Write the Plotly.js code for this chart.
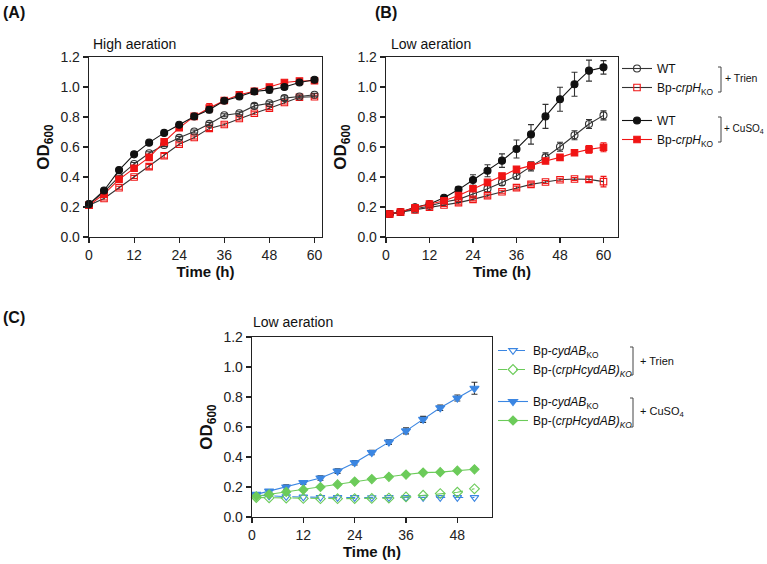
<!DOCTYPE html>
<html>
<head>
<meta charset="utf-8">
<script src="https://cdn.plot.ly/plotly-3.0.1.min.js"></script>
<style>html,body{margin:0;padding:0;background:#fff;}#chart{width:767px;height:564px;}</style>
</head>
<body>
<div id="chart"></div>
<script>
// ---------- data ----------
const hoursA = [0, 4, 8, 12, 16, 20, 24, 28, 32, 36, 40, 44, 48, 52, 56, 60];
const hoursB = [1, 4, 8, 12, 16, 20, 24, 28, 32, 36, 40, 44, 48, 52, 56, 60];
const hoursC = [1, 4, 8, 12, 16, 20, 24, 28, 32, 36, 40, 44, 48, 52];

// Panel A - High aeration
const A_WT_Trien = [0.219, 0.300, 0.402, 0.487, 0.558, 0.614, 0.661, 0.703, 0.754, 0.812, 0.825, 0.874, 0.892, 0.926, 0.937, 0.948];
const A_KO_Trien = [0.212, 0.257, 0.328, 0.400, 0.469, 0.542, 0.618, 0.663, 0.724, 0.750, 0.790, 0.825, 0.859, 0.897, 0.932, 0.935];
const A_WT_Cu    = [0.219, 0.310, 0.446, 0.551, 0.629, 0.694, 0.748, 0.804, 0.848, 0.908, 0.937, 0.970, 0.981, 1.000, 1.030, 1.048];
const A_KO_Cu    = [0.212, 0.286, 0.384, 0.458, 0.531, 0.634, 0.728, 0.804, 0.860, 0.910, 0.948, 0.972, 1.000, 1.030, 1.040, 1.042];
const A_err_WT_Trien = [0.01, 0.01, 0.01, 0.01, 0.01, 0.01, 0.01, 0.01, 0.01, 0.01, 0.01, 0.015, 0.01, 0.015, 0.01, 0.01];
const A_err_KO_Trien = [0.01, 0.01, 0.01, 0.01, 0.015, 0.015, 0.01, 0.01, 0.015, 0.01, 0.01, 0.01, 0.01, 0.01, 0.01, 0.01];
const A_err_WT_Cu    = [0.01, 0.01, 0.01, 0.01, 0.01, 0.01, 0.01, 0.01, 0.02, 0.01, 0.015, 0.02, 0.02, 0.015, 0.01, 0.015];
const A_err_KO_Cu    = [0.01, 0.01, 0.01, 0.01, 0.01, 0.01, 0.01, 0.01, 0.03, 0.01, 0.01, 0.01, 0.01, 0.01, 0.01, 0.01];

// Panel B - Low aeration
const B_WT_Trien = [0.153, 0.167, 0.184, 0.207, 0.233, 0.251, 0.287, 0.322, 0.364, 0.407, 0.471, 0.531, 0.602, 0.678, 0.753, 0.811];
const B_KO_Trien = [0.153, 0.165, 0.180, 0.198, 0.213, 0.229, 0.251, 0.276, 0.302, 0.329, 0.351, 0.367, 0.382, 0.387, 0.384, 0.369];
const B_WT_Cu    = [0.153, 0.167, 0.198, 0.220, 0.262, 0.316, 0.380, 0.442, 0.509, 0.587, 0.684, 0.804, 0.918, 1.018, 1.109, 1.131];
const B_KO_Cu    = [0.153, 0.167, 0.195, 0.220, 0.242, 0.276, 0.322, 0.364, 0.407, 0.451, 0.476, 0.507, 0.531, 0.562, 0.584, 0.598];
const B_err_WT_Trien = [0.01, 0.01, 0.01, 0.01, 0.01, 0.015, 0.02, 0.02, 0.02, 0.02, 0.03, 0.03, 0.03, 0.03, 0.03, 0.03];
const B_err_KO_Trien = [0.01, 0.01, 0.01, 0.01, 0.01, 0.01, 0.01, 0.01, 0.01, 0.01, 0.01, 0.01, 0.01, 0.01, 0.015, 0.035];
const B_err_WT_Cu    = [0.01, 0.01, 0.01, 0.01, 0.015, 0.02, 0.035, 0.04, 0.045, 0.06, 0.065, 0.08, 0.08, 0.08, 0.07, 0.045];
const B_err_KO_Cu    = [0.01, 0.01, 0.01, 0.01, 0.01, 0.01, 0.01, 0.01, 0.01, 0.01, 0.01, 0.01, 0.015, 0.015, 0.025, 0.03];

// Panel C - Low aeration
const C_cyd_Trien      = [0.145, 0.140, 0.136, 0.133, 0.131, 0.130, 0.130, 0.129, 0.130, 0.130, 0.130, 0.130, 0.130, 0.130];
const C_crpHcyd_Trien  = [0.130, 0.128, 0.126, 0.124, 0.122, 0.122, 0.123, 0.124, 0.126, 0.134, 0.145, 0.156, 0.165, 0.188];
const C_cyd_Cu         = [0.151, 0.173, 0.200, 0.229, 0.260, 0.306, 0.362, 0.430, 0.499, 0.574, 0.651, 0.728, 0.793, 0.858];
const C_crpHcyd_Cu     = [0.138, 0.151, 0.167, 0.182, 0.200, 0.217, 0.236, 0.253, 0.268, 0.283, 0.296, 0.299, 0.309, 0.318];
const C_err_cyd_Cu     = [0.01, 0.01, 0.015, 0.012, 0.015, 0.015, 0.015, 0.015, 0.015, 0.02, 0.02, 0.018, 0.02, 0.04];

const labelsAB = ['WT', 'Bp-<i>crpH</i><sub>KO</sub>'];
const labelsC  = ['Bp-<i>cydAB</i><sub>KO</sub>', 'Bp-(<i>crpHcydAB)<sub>KO</sub></i>'];
const treatLabels = ['+ Trien', '+ CuSO<sub>4</sub>'];

// ---------- style ----------
const F = 'Arial, "Liberation Sans", Helvetica, sans-serif';
const BLACK = '#111111', RED = '#f01414', BLUE = '#3b86e2', GREEN = '#6ccb5a';
const W = 767, H = 564;
const px = x => x / W;
const py = y => 1 - y / H;

function tr(x, y, err, opts) {
  const t = {
    x: x, y: y, type: 'scatter', mode: 'lines+markers', cliponaxis: false,
    line: {color: opts.lineColor, width: 1.1, dash: opts.dash || 'solid'},
    marker: {symbol: opts.symbol, color: opts.markerColor, size: opts.size || 7, line: {width: 1.1, color: opts.markerColor}},
    name: opts.name, legendgroup: opts.group, showlegend: !!opts.legend,
    xaxis: opts.xa, yaxis: opts.ya
  };
  if (opts.legend) t.legend = opts.legend;
  if (err) t.error_y = {type: 'data', array: err, visible: true, color: opts.errColor || opts.lineColor, thickness: 1.1, width: 3};
  return t;
}

const data = [
  // A
  tr(hoursA, A_KO_Trien, A_err_KO_Trien, {xa:'x', ya:'y', lineColor:'#333', markerColor:RED, errColor:RED, symbol:'square-open', size:6.5, name:labelsAB[1]}),
  tr(hoursA, A_WT_Trien, A_err_WT_Trien, {xa:'x', ya:'y', lineColor:'#333', markerColor:'#333', errColor:'#333', symbol:'circle-open', name:labelsAB[0]}),
  tr(hoursA, A_KO_Cu, A_err_KO_Cu, {xa:'x', ya:'y', lineColor:RED, markerColor:RED, errColor:RED, symbol:'square', size:6.5, name:labelsAB[1]}),
  tr(hoursA, A_WT_Cu, A_err_WT_Cu, {xa:'x', ya:'y', lineColor:BLACK, markerColor:BLACK, symbol:'circle', name:labelsAB[0]}),
  // B (with legend)
  tr(hoursB, B_WT_Trien, B_err_WT_Trien, {xa:'x2', ya:'y2', lineColor:'#333', markerColor:'#333', errColor:'#333', symbol:'circle-open', name:labelsAB[0], group:'trien', legend:'legend'}),
  tr(hoursB, B_KO_Trien, B_err_KO_Trien, {xa:'x2', ya:'y2', lineColor:'#333', markerColor:RED, errColor:RED, symbol:'square-open', size:6.5, name:labelsAB[1], group:'trien', legend:'legend'}),
  tr(hoursB, B_WT_Cu, B_err_WT_Cu, {xa:'x2', ya:'y2', lineColor:BLACK, markerColor:BLACK, errColor:'#333', symbol:'circle', name:labelsAB[0], group:'cu', legend:'legend'}),
  tr(hoursB, B_KO_Cu, B_err_KO_Cu, {xa:'x2', ya:'y2', lineColor:RED, markerColor:RED, errColor:RED, symbol:'square', size:6.5, name:labelsAB[1], group:'cu', legend:'legend'}),
  // C (with legend2)
  tr(hoursC, C_cyd_Trien, null, {xa:'x3', ya:'y3', lineColor:BLUE, markerColor:BLUE, symbol:'triangle-down-open', size:7.5, dash:'dash', name:labelsC[0], group:'ctrien', legend:'legend2'}),
  tr(hoursC, C_crpHcyd_Trien, null, {xa:'x3', ya:'y3', lineColor:GREEN, markerColor:GREEN, symbol:'diamond-open', size:7.5, dash:'dash', name:labelsC[1], group:'ctrien', legend:'legend2'}),
  tr(hoursC, C_cyd_Cu, C_err_cyd_Cu, {xa:'x3', ya:'y3', lineColor:BLUE, markerColor:BLUE, errColor:'#333', symbol:'triangle-down', size:8, name:labelsC[0], group:'ccu', legend:'legend2'}),
  tr(hoursC, C_crpHcyd_Cu, null, {xa:'x3', ya:'y3', lineColor:GREEN, markerColor:GREEN, symbol:'diamond', size:7, name:labelsC[1], group:'ccu', legend:'legend2'})
];

function xax(domain, range, anchor) {
  return {
    domain: domain, range: range, anchor: anchor, tickvals: [0, 12, 24, 36, 48, 60],
    showline: true, linecolor: '#222', linewidth: 1.3, mirror: true,
    ticks: 'outside', ticklen: 5, tickwidth: 1.2, tickcolor: '#222',
    showgrid: false, zeroline: false, tickfont: {family: F, size: 14, color: '#222'},
    title: {text: '<b>Time (h)</b>', font: {family: F, size: 15, color: '#111'}, standoff: 4}
  };
}
function yax(domain, anchor) {
  return {
    domain: domain, range: [0, 1.2], anchor: anchor, tickvals: [0, 0.2, 0.4, 0.6, 0.8, 1.0, 1.2], tickformat: '.1f',
    showline: true, linecolor: '#222', linewidth: 1.3, mirror: true,
    ticks: 'outside', ticklen: 5, tickwidth: 1.2, tickcolor: '#222',
    showgrid: false, zeroline: false, tickfont: {family: F, size: 14, color: '#222'},
    title: {text: '<b>OD<sub>600</sub></b>', font: {family: F, size: 17, color: '#111'}, standoff: 6}
  };
}

const ann = (x, y, text, size, bold, anchor) => ({
  xref: 'paper', yref: 'paper', x: px(x), y: py(y), text: bold ? '<b>' + text + '</b>' : text,
  showarrow: false, xanchor: anchor || 'left', yanchor: 'middle', borderpad: 0,
  font: {family: F, size: size, color: '#111'}
});
const bracket = (x, y0, y1) => ({
  type: 'path', xref: 'paper', yref: 'paper',
  path: `M ${px(x - 3)} ${py(y0)} L ${px(x)} ${py(y0)} L ${px(x)} ${py(y1)} L ${px(x - 3)} ${py(y1)}`,
  line: {color: '#444', width: 1}
});

const layout = {
  width: W, height: H, margin: {l: 0, r: 0, t: 0, b: 0},
  paper_bgcolor: '#fff', plot_bgcolor: '#fff',
  font: {family: F, color: '#111'},
  xaxis: xax([px(89), px(322)], [0, 62], 'y'),
  yaxis: yax([py(237), py(57)], 'x'),
  xaxis2: xax([px(386), px(618)], [0, 64], 'y2'),
  yaxis2: yax([py(237), py(57)], 'x2'),
  xaxis3: xax([px(252), px(492)], [0, 56.1], 'y3'),
  yaxis3: yax([py(517), py(337)], 'x3'),
  legend: {x: px(617), y: py(54), xanchor: 'left', yanchor: 'top', font: {family: F, size: 12, color: '#111'},
           traceorder: 'grouped', tracegroupgap: 14, bgcolor: 'rgba(0,0,0,0)', itemclick: false},
  legend2: {x: px(493), y: py(336), xanchor: 'left', yanchor: 'top', font: {family: F, size: 12, color: '#111'},
            traceorder: 'grouped', tracegroupgap: 13, bgcolor: 'rgba(0,0,0,0)', itemclick: false},
  annotations: [
    ann(2, 12, '(A)', 16, true),
    ann(374, 12, '(B)', 16, true),
    ann(2, 317, '(C)', 16, true),
    ann(92, 44, 'High aeration', 14),
    ann(390, 44, 'Low aeration', 14),
    ann(252, 322, 'Low aeration', 14),
    ann(724, 78, treatLabels[0], 10.5),
    ann(723, 129, treatLabels[1], 10),
    ann(639, 361, treatLabels[0], 11),
    ann(639, 412, treatLabels[1], 11)
  ],
  shapes: [
    bracket(721, 67, 92),
    bracket(721, 117, 142),
    bracket(633, 347, 375),
    bracket(633, 398, 427)
  ]
};

Plotly.newPlot('chart', data, layout, {displayModeBar: false, staticPlot: true});
</script>
</body>
</html>
